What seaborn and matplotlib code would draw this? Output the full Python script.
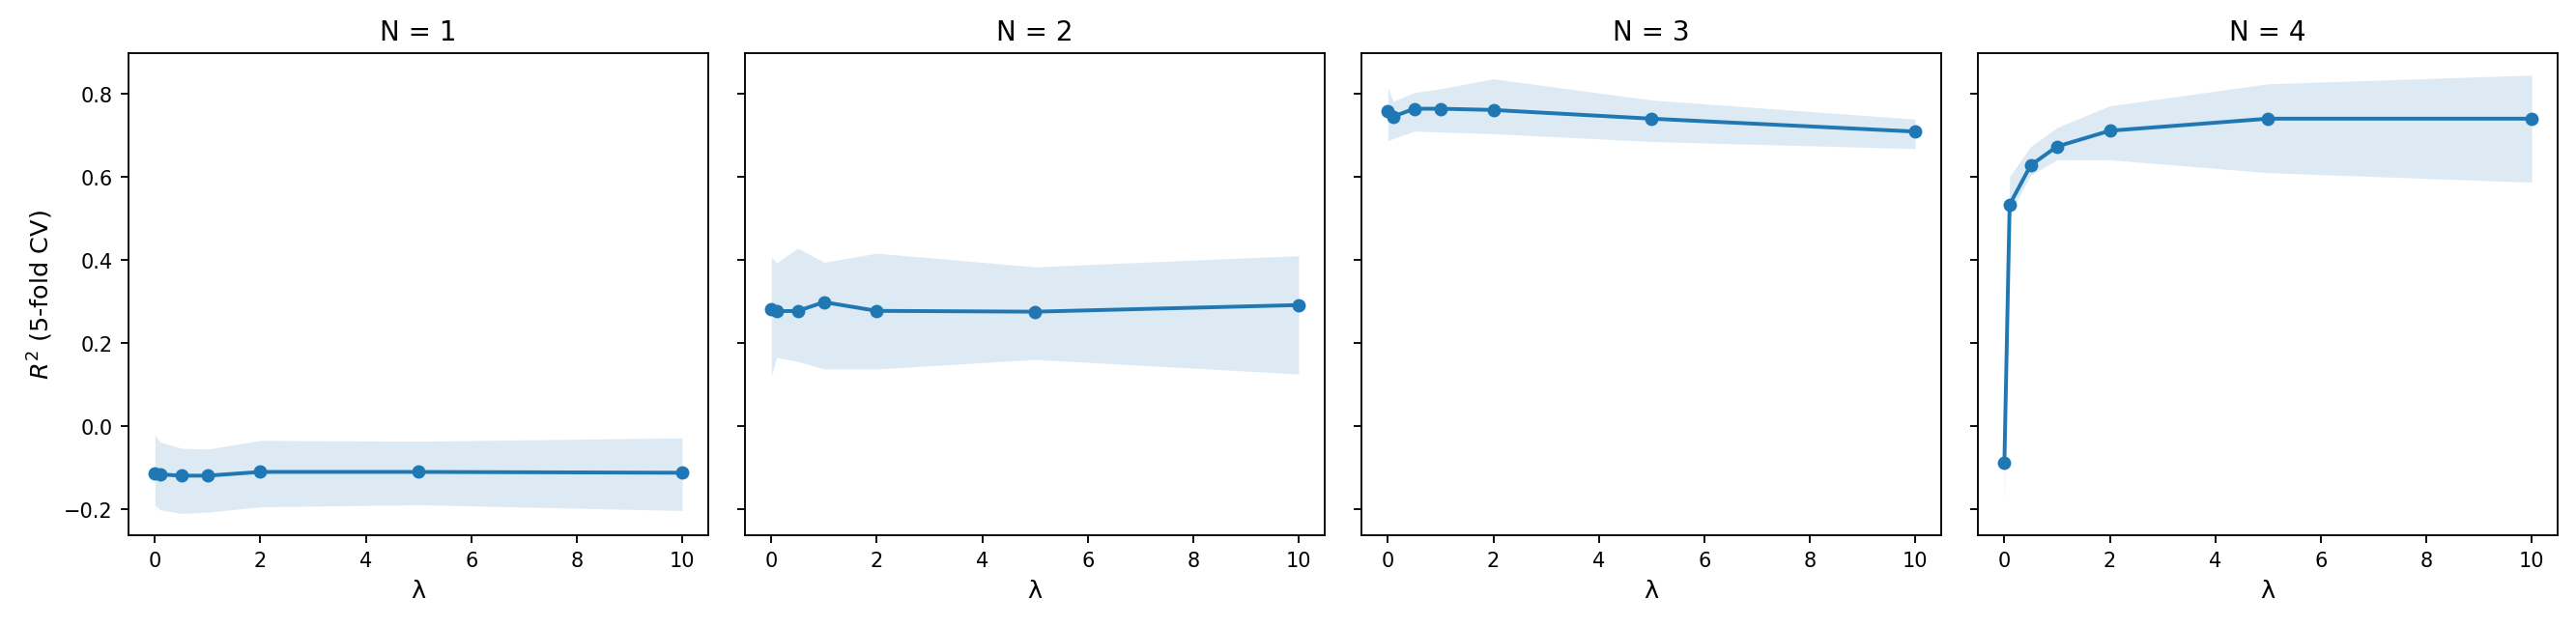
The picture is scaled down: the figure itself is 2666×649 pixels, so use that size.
import numpy as np
import pandas as pd
import matplotlib
matplotlib.use("Agg")
import matplotlib.pyplot as plt
import seaborn as sns

lambdas = [0, 0.1, 0.5, 1, 2, 5, 10]
panels = ["N = 1", "N = 2", "N = 3", "N = 4"]

n1_mean = [-0.114, -0.117, -0.120, -0.120, -0.111, -0.111, -0.113]
n1_lo = [-0.191, -0.202, -0.211, -0.208, -0.195, -0.190, -0.204]
n1_hi = [-0.021, -0.039, -0.054, -0.056, -0.035, -0.037, -0.029]

n2_mean = [0.282, 0.276, 0.277, 0.298, 0.277, 0.275, 0.291]
n2_lo = [0.120, 0.165, 0.155, 0.137, 0.137, 0.160, 0.125]
n2_hi = [0.406, 0.393, 0.428, 0.394, 0.416, 0.383, 0.410]

n3_mean = [0.759, 0.745, 0.764, 0.764, 0.761, 0.740, 0.709]
n3_lo = [0.687, 0.692, 0.710, 0.708, 0.704, 0.685, 0.668]
n3_hi = [0.815, 0.782, 0.803, 0.812, 0.836, 0.785, 0.739]

n4_mean = [-0.090, 0.533, 0.628, 0.673, 0.711, 0.740, 0.740]
n4_lo = [-0.190, 0.510, 0.604, 0.641, 0.641, 0.610, 0.587]
n4_hi = [0.010, 0.601, 0.673, 0.719, 0.771, 0.824, 0.845]

means = [n1_mean, n2_mean, n3_mean, n4_mean]
los = [n1_lo, n2_lo, n3_lo, n4_lo]
his = [n1_hi, n2_hi, n3_hi, n4_hi]

color = "#1f77b4"

fig, axes = plt.subplots(1, 4, figsize=(16, 3.9), dpi=166.625, sharey=True)
fig.subplots_adjust(left=0.0499, right=0.993, bottom=0.146, top=0.914, wspace=0.063)

for ax, title, m, lo, hi in zip(axes, panels, means, los, his):
    df = pd.DataFrame({"lam": lambdas, "r2": m})
    ax.fill_between(lambdas, lo, hi, color=color, alpha=0.15, linewidth=0)
    sns.lineplot(data=df, x="lam", y="r2", ax=ax, color=color, marker="o",
                 markersize=6, markeredgewidth=0, linewidth=1.7)
    ax.set_title(title, fontsize=12)
    ax.set_xlabel("λ", fontsize=11)
    ax.set_ylabel("")
    ax.set_xticks([0, 2, 4, 6, 8, 10])
    ax.tick_params(labelsize=9)

axes[0].set_ylabel(r"$R^2$ (5-fold CV)", fontsize=11)

fig.savefig("out.png", dpi=166.625)
